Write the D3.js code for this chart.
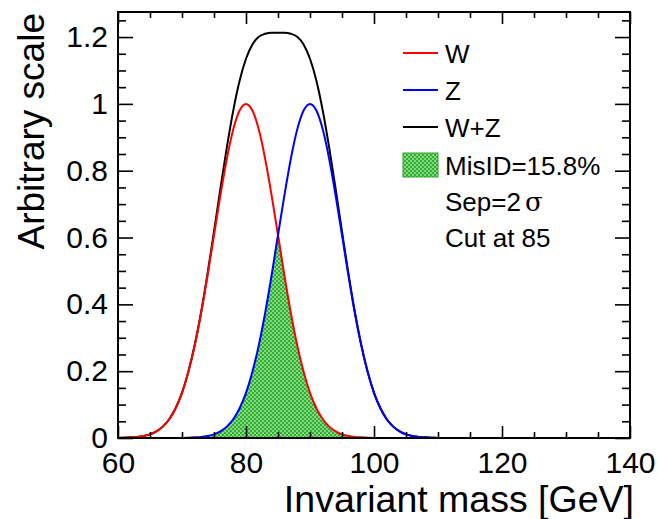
<!DOCTYPE html>
<html>
<head>
<meta charset="utf-8">
<script src="https://cdn.jsdelivr.net/npm/d3@7"></script>
<style>
  body { margin: 0; background: #fff; }
  svg { display: block; font-family: "Liberation Sans", Arial, sans-serif; }
  .tick text { font-family: "Liberation Sans", Arial, sans-serif; fill: #000; }
</style>
</head>
<body>
<div id="chart"></div>
<script>
// Data
const massGeV = [60,61,62,63,64,65,66,67,68,69,70,71,72,73,74,75,76,77,78,79,80,81,82,83,84,85,
  86,87,88,89,90,91,92,93,94,95,96,97,98,99,100,101,102,103,104,105,106,107,108,109,110];
const wShape = [0.000,0.001,0.002,0.003,0.006,0.011,0.020,0.034,0.056,0.089,0.135,0.198,0.278,0.375,0.487,0.607,
  0.726,0.835,0.923,0.980,1.000,0.980,0.923,0.835,0.726,0.607,0.487,0.375,0.278,0.198,0.135,0.089,0.056,0.034,
  0.020,0.011,0.006,0.003,0.002,0.001,0.000,0.000,0.000,0.000,0.000,0.000,0.000,0.000,0.000,0.000,0.000];
const zShape = [0.000,0.000,0.000,0.000,0.000,0.000,0.000,0.000,0.000,0.000,0.000,0.001,0.002,0.003,0.006,0.011,
  0.020,0.034,0.056,0.089,0.135,0.198,0.278,0.375,0.487,0.607,0.726,0.835,0.923,0.980,1.000,0.980,0.923,0.835,
  0.726,0.607,0.487,0.375,0.278,0.198,0.135,0.089,0.056,0.034,0.020,0.011,0.006,0.003,0.002,0.001,0.000];
const sumShape = [0.000,0.001,0.002,0.003,0.006,0.011,0.020,0.034,0.056,0.089,0.135,0.199,0.280,0.378,0.493,0.618,
  0.746,0.869,0.979,1.069,1.135,1.178,1.201,1.210,1.213,1.213,1.213,1.210,1.201,1.178,1.135,1.069,0.979,0.869,
  0.746,0.618,0.493,0.378,0.280,0.199,0.135,0.089,0.056,0.034,0.020,0.011,0.006,0.003,0.002,0.001,0.000];
const xTicks = [60, 80, 100, 120, 140];
const yTicks = [0, 0.2, 0.4, 0.6, 0.8, 1, 1.2];
const legendLabels = ["W", "Z", "W+Z", "MisID=15.8%"];
const notes = ["Sep=2", "Cut at 85"];

const width = 658, height = 519;
const svg = d3.select("#chart").append("svg").attr("width", width).attr("height", height);

// Pattern for the mis-ID area
const defs = svg.append("defs");
const pat = defs.append("pattern").attr("id", "hatch")
  .attr("patternUnits", "userSpaceOnUse").attr("width", 4).attr("height", 4);
pat.append("rect").attr("width", 4).attr("height", 4).attr("fill", "#86d686");
pat.append("rect").attr("width", 2).attr("height", 2).attr("fill", "#2fb02f");
pat.append("rect").attr("x", 2).attr("y", 2).attr("width", 2).attr("height", 2).attr("fill", "#2fb02f");

// Scales
const x = d3.scaleLinear().domain([60, 140]).range([118, 630]);
const y = d3.scaleLinear().domain([0, 1.275]).range([438, 12]);

const pts = massGeV.map((m, i) => ({m, w: wShape[i], z: zShape[i], s: sumShape[i]}));

// MisID area (under the lower of the two curves)
svg.append("path")
  .datum(pts)
  .attr("fill", "url(#hatch)")
  .attr("d", d3.area().x(d => x(d.m)).y0(y(0)).y1(d => y(Math.min(d.w, d.z))).curve(d3.curveMonotoneX));

// Curves
function drawCurve(key, color) {
  svg.append("path")
    .datum(pts)
    .attr("fill", "none")
    .attr("stroke", color)
    .attr("stroke-width", 2)
    .attr("d", d3.line().x(d => x(d.m)).y(d => y(d[key])).curve(d3.curveMonotoneX));
}
drawCurve("s", "#000");
drawCurve("w", "#ff0000");
drawCurve("z", "#0000ff");

// Axes (ticks inward, on all four sides)
const minorX = d3.range(60, 141, 5).filter(v => v % 20 !== 0);
const minorY = d3.range(0, 1.26, 0.05).filter(v => Math.abs(v * 5 - Math.round(v * 5)) > 1e-6);

function styleAxis(g) {
  g.select(".domain").remove();
  g.selectAll(".tick line").attr("stroke", "#000").attr("stroke-width", 1.6);
}

svg.append("g").attr("transform", `translate(0,${y(0)})`)
  .call(d3.axisBottom(x).tickValues(xTicks).tickSize(-12).tickFormat(d3.format("d")))
  .call(styleAxis)
  .call(g => g.selectAll("text").attr("font-size", 30).attr("dy", "0.71em").attr("y", 14));
svg.append("g").attr("transform", `translate(0,${y(0)})`)
  .call(d3.axisBottom(x).tickValues(minorX).tickSize(-6).tickFormat(""))
  .call(styleAxis);
svg.append("g").attr("transform", `translate(0,${y.range()[1]})`)
  .call(d3.axisTop(x).tickValues(xTicks).tickSize(-12).tickFormat(""))
  .call(styleAxis);
svg.append("g").attr("transform", `translate(0,${y.range()[1]})`)
  .call(d3.axisTop(x).tickValues(minorX).tickSize(-6).tickFormat(""))
  .call(styleAxis);

svg.append("g").attr("transform", `translate(${x(60)},0)`)
  .call(d3.axisLeft(y).tickValues(yTicks).tickSize(-15).tickPadding(10).tickFormat(d3.format("")))
  .call(styleAxis)
  .call(g => g.selectAll("text").attr("font-size", 30));
svg.append("g").attr("transform", `translate(${x(60)},0)`)
  .call(d3.axisLeft(y).tickValues(minorY).tickSize(-8).tickFormat(""))
  .call(styleAxis);
svg.append("g").attr("transform", `translate(${x(140)},0)`)
  .call(d3.axisRight(y).tickValues(yTicks).tickSize(-15).tickFormat(""))
  .call(styleAxis);
svg.append("g").attr("transform", `translate(${x(140)},0)`)
  .call(d3.axisRight(y).tickValues(minorY).tickSize(-8).tickFormat(""))
  .call(styleAxis);

// Frame
svg.append("rect")
  .attr("x", x(60)).attr("y", y.range()[1])
  .attr("width", x(140) - x(60)).attr("height", y(0) - y.range()[1])
  .attr("fill", "none").attr("stroke", "#000").attr("stroke-width", 2);

// Axis titles
svg.append("text")
  .attr("x", 634).attr("y", 512)
  .attr("text-anchor", "end").attr("font-size", 37.5)
  .text("Invariant mass [GeV]");
svg.append("text")
  .attr("transform", "translate(44,13) rotate(-90)")
  .attr("text-anchor", "end").attr("font-size", 37)
  .text("Arbitrary scale");

// Legend
const legY = [53, 90, 127, 165];
const legColors = ["#ff0000", "#0000ff", "#000"];
const leg = svg.append("g").attr("font-size", 26);
legColors.forEach((c, i) => {
  leg.append("line").attr("x1", 403).attr("x2", 438).attr("y1", legY[i]).attr("y2", legY[i])
    .attr("stroke", c).attr("stroke-width", 2);
});
leg.append("rect").attr("x", 403).attr("y", 153).attr("width", 35).attr("height", 24)
  .attr("fill", "url(#hatch)").attr("stroke", "#2ea52e").attr("stroke-width", 1);
legendLabels.forEach((t, i) => {
  leg.append("text").attr("x", 445).attr("y", legY[i] + 10).text(t);
});
const sep = leg.append("text").attr("x", 445).attr("y", 211);
sep.append("tspan").text(notes[0]);
sep.append("tspan").attr("dx", 4).attr("font-family", "DejaVu Serif, serif").text("σ");
leg.append("text").attr("x", 445).attr("y", 247).text(notes[1]);
</script>
</body>
</html>
